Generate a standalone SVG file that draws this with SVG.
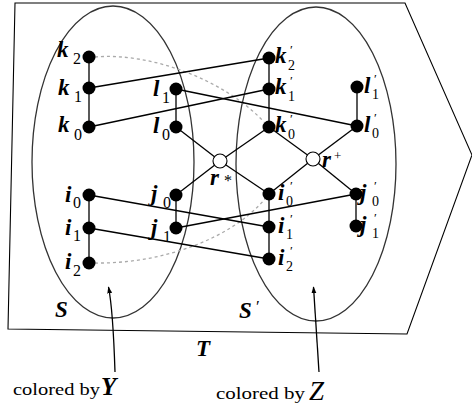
<svg xmlns="http://www.w3.org/2000/svg" width="472" height="408" viewBox="0 0 472 408" font-family="Liberation Serif, DejaVu Serif, serif">
<defs>
<marker id="ah" viewBox="0 0 10 10" refX="9" refY="5" markerWidth="7" markerHeight="7" orient="auto" markerUnits="userSpaceOnUse">
<path d="M0,1.5 L10,5 L0,8.5 Z" fill="#000"/>
</marker>
<style>
.fr{fill:none;stroke:#000;stroke-width:1.1}
.el{fill:none;stroke:#333;stroke-width:1.3}
.e{stroke:#000;stroke-width:1.3;fill:none}
.d{stroke:#aaa;stroke-width:1.3;fill:none;stroke-dasharray:3,3}
.n{fill:#000}
.o{fill:#fff;stroke:#000;stroke-width:1.1}
</style>
</defs>
<g id="frame">
<polygon class="fr" points="15,3 405,3 472,155 407,334 8,329"/>
<ellipse class="el" cx="113" cy="162" rx="81" ry="156"/>
<ellipse class="el" cx="316" cy="164" rx="80" ry="157"/>
<text x="55" y="317" font-size="23" font-style="italic" font-weight="bold">S</text>
<text x="239" y="318" font-size="23" font-style="italic" font-weight="bold">S</text><text x="256" y="312" font-size="17">′</text>
<text x="196" y="356" font-size="23" font-style="italic" font-weight="bold">T</text>
</g>
<g id="connectors">
<path class="d" d="M95,57 C150,52 225,80 264,122"/>
<path class="d" d="M95,263 C160,264 230,240 265,199"/>
<line class="e" x1="89" y1="57" x2="89" y2="127"/>
<line class="e" x1="176" y1="89" x2="176" y2="127"/>
<line class="e" x1="89" y1="195" x2="89" y2="263"/>
<line class="e" x1="176" y1="195" x2="176" y2="228"/>
<line class="e" x1="269" y1="58" x2="269" y2="127"/>
<line class="e" x1="357" y1="87" x2="357" y2="126"/>
<line class="e" x1="269" y1="194" x2="269" y2="259"/>
<line class="e" x1="356" y1="194" x2="356" y2="226"/>
<line class="e" x1="89" y1="88" x2="269" y2="58"/>
<line class="e" x1="89" y1="127" x2="269" y2="89"/>
<line class="e" x1="176" y1="89" x2="357" y2="126"/>
<line class="e" x1="176" y1="127" x2="220" y2="161"/>
<line class="e" x1="220" y1="161" x2="269" y2="194"/>
<line class="e" x1="176" y1="195" x2="220" y2="161"/>
<line class="e" x1="220" y1="161" x2="269" y2="127"/>
<line class="e" x1="269" y1="127" x2="313" y2="159"/>
<line class="e" x1="313" y1="159" x2="356" y2="194"/>
<line class="e" x1="269" y1="194" x2="313" y2="159"/>
<line class="e" x1="313" y1="159" x2="357" y2="126"/>
<line class="e" x1="89" y1="195" x2="269" y2="227"/>
<line class="e" x1="89" y1="228" x2="269" y2="259"/>
<line class="e" x1="176" y1="228" x2="356" y2="194"/>
<path class="e" d="M115,372 Q113,310 108.5,287" marker-end="url(#ah)"/>
<path class="e" d="M319,372 Q315,310 313.5,287" marker-end="url(#ah)"/>
</g>
<g id="k2"><circle class="n" cx="89" cy="57" r="6.5"/><text x="57" y="57" font-size="23" font-style="italic" font-weight="bold">k</text><text x="73" y="64" font-size="16">2</text></g>
<g id="k1"><circle class="n" cx="89" cy="88" r="6.5"/><text x="58" y="95" font-size="23" font-style="italic" font-weight="bold">k</text><text x="74" y="102" font-size="16">1</text></g>
<g id="k0"><circle class="n" cx="89" cy="127" r="6.5"/><text x="58" y="132" font-size="23" font-style="italic" font-weight="bold">k</text><text x="74" y="140" font-size="16">0</text></g>
<g id="l1"><circle class="n" cx="176" cy="89" r="6.5"/><text x="153" y="96" font-size="23" font-style="italic" font-weight="bold">l</text><text x="162" y="103" font-size="16">1</text></g>
<g id="l0"><circle class="n" cx="176" cy="127" r="6.5"/><text x="153" y="133" font-size="23" font-style="italic" font-weight="bold">l</text><text x="162" y="140" font-size="16">0</text></g>
<g id="rstar"><circle class="o" cx="220" cy="161" r="7"/><text x="210" y="185" font-size="23" font-style="italic" font-weight="bold">r</text><text x="224" y="186" font-size="16">*</text></g>
<g id="i0"><circle class="n" cx="89" cy="195" r="6.5"/><text x="65" y="202" font-size="23" font-style="italic" font-weight="bold">i</text><text x="73" y="208" font-size="16">0</text></g>
<g id="i1"><circle class="n" cx="89" cy="228" r="6.5"/><text x="65" y="235" font-size="23" font-style="italic" font-weight="bold">i</text><text x="73" y="241" font-size="16">1</text></g>
<g id="i2"><circle class="n" cx="89" cy="263" r="6.5"/><text x="65" y="269" font-size="23" font-style="italic" font-weight="bold">i</text><text x="73" y="276" font-size="16">2</text></g>
<g id="j0"><circle class="n" cx="176" cy="195" r="6.5"/><text x="151" y="201" font-size="23" font-style="italic" font-weight="bold">j</text><text x="163" y="208" font-size="16">0</text></g>
<g id="j1"><circle class="n" cx="176" cy="228" r="6.5"/><text x="151" y="235" font-size="23" font-style="italic" font-weight="bold">j</text><text x="163" y="242" font-size="16">1</text></g>
<g id="k2p"><circle class="n" cx="269" cy="58" r="6.5"/><text x="275" y="63" font-size="23" font-style="italic" font-weight="bold">k</text><text x="290" y="54" font-size="13">′</text><text x="288" y="70" font-size="14">2</text></g>
<g id="k1p"><circle class="n" cx="269" cy="89" r="6.5"/><text x="275" y="94" font-size="23" font-style="italic" font-weight="bold">k</text><text x="290" y="85" font-size="13">′</text><text x="288" y="101" font-size="14">1</text></g>
<g id="k0p"><circle class="n" cx="269" cy="127" r="6.5"/><text x="275" y="132" font-size="23" font-style="italic" font-weight="bold">k</text><text x="290" y="123" font-size="13">′</text><text x="288" y="139" font-size="14">0</text></g>
<g id="l1p"><circle class="n" cx="357" cy="87" r="6.5"/><text x="364" y="93" font-size="23" font-style="italic" font-weight="bold">l</text><text x="374" y="83" font-size="13">′</text><text x="372" y="99" font-size="14">1</text></g>
<g id="l0p"><circle class="n" cx="357" cy="126" r="6.5"/><text x="364" y="132" font-size="23" font-style="italic" font-weight="bold">l</text><text x="374" y="122" font-size="13">′</text><text x="372" y="138" font-size="14">0</text></g>
<g id="rplus"><circle class="o" cx="313" cy="159" r="7"/><text x="322" y="167" font-size="23" font-style="italic" font-weight="bold">r</text><text x="334" y="160" font-size="13">+</text></g>
<g id="i0p"><circle class="n" cx="269" cy="194" r="6.5"/><text x="278" y="200" font-size="23" font-style="italic" font-weight="bold">i</text><text x="290" y="190" font-size="13">′</text><text x="286" y="206" font-size="14">0</text></g>
<g id="i1p"><circle class="n" cx="269" cy="227" r="6.5"/><text x="278" y="233" font-size="23" font-style="italic" font-weight="bold">i</text><text x="290" y="223" font-size="13">′</text><text x="286" y="239" font-size="14">1</text></g>
<g id="i2p"><circle class="n" cx="269" cy="259" r="6.5"/><text x="278" y="265" font-size="23" font-style="italic" font-weight="bold">i</text><text x="290" y="255" font-size="13">′</text><text x="286" y="271" font-size="14">2</text></g>
<g id="j0p"><circle class="n" cx="356" cy="194" r="6.5"/><text x="360" y="200" font-size="23" font-style="italic" font-weight="bold">j</text><text x="374" y="190" font-size="13">′</text><text x="372" y="206" font-size="14">0</text></g>
<g id="j1p"><circle class="n" cx="356" cy="226" r="6.5"/><text x="360" y="232" font-size="23" font-style="italic" font-weight="bold">j</text><text x="374" y="222" font-size="13">′</text><text x="372" y="238" font-size="14">1</text></g>
<g id="labels">
<text x="13" y="395" font-size="17" textLength="87" lengthAdjust="spacingAndGlyphs">colored by</text>
<text x="101" y="395" font-size="25" font-style="italic" font-weight="bold">Y</text>
<text x="216" y="399" font-size="17" textLength="89" lengthAdjust="spacingAndGlyphs">colored by</text>
<text x="309" y="400" font-size="27" font-style="italic">Z</text>
</g>
</svg>
